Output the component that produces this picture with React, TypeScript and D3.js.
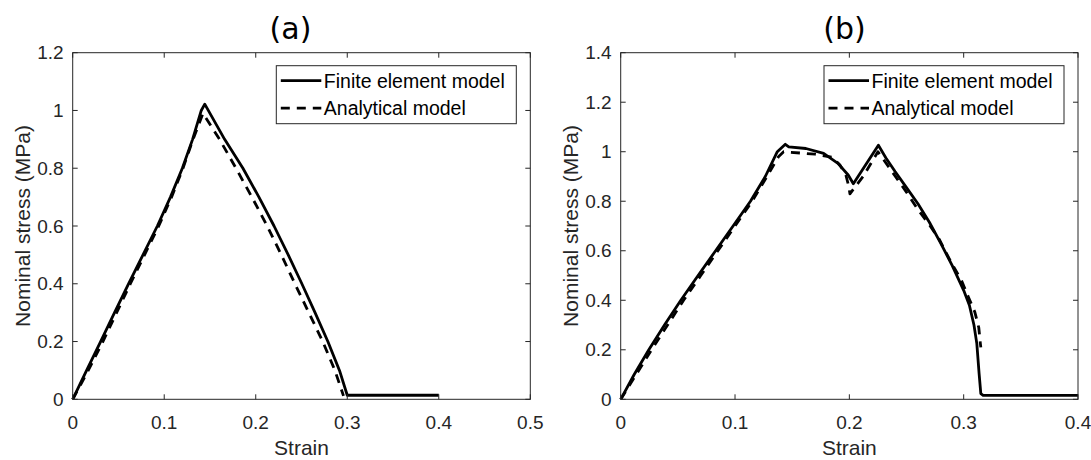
import React from 'react';
import * as d3 from 'd3';

// panel (a)
const feStrainA = [0, 0.0152, 0.0305, 0.0457, 0.061, 0.0768, 0.0925, 0.1068, 0.1198, 0.131, 0.1405, 0.1443, 0.166, 0.186, 0.2035, 0.22, 0.2355, 0.2504, 0.2648, 0.2788, 0.2915, 0.3, 0.4];
const feStressA = [0, 0.1, 0.2, 0.3, 0.4, 0.5, 0.6, 0.7, 0.8, 0.9, 1.0, 1.022, 0.9, 0.8, 0.7, 0.6, 0.5, 0.4, 0.3, 0.2, 0.1, 0.014, 0.014];
const anStrainA = [0, 0.017, 0.033, 0.048, 0.063, 0.0785, 0.094, 0.108, 0.1205, 0.1315, 0.1424, 0.1605, 0.1784, 0.1958, 0.2125, 0.228, 0.2428, 0.258, 0.2732, 0.2865, 0.2959];
const anStressA = [0, 0.1, 0.2, 0.3, 0.4, 0.5, 0.6, 0.7, 0.8, 0.9, 0.99, 0.9, 0.8, 0.7, 0.6, 0.5, 0.4, 0.3, 0.2, 0.1, 0.012];

// panel (b)
const feStrainB = [0, 0.0118, 0.0246, 0.0383, 0.0526, 0.0677, 0.083, 0.0983, 0.1135, 0.1265, 0.137, 0.144, 0.147, 0.162, 0.1775, 0.19, 0.199, 0.2035, 0.2254, 0.232, 0.24, 0.25, 0.26, 0.27, 0.28, 0.29, 0.3, 0.305, 0.309, 0.3115, 0.3135, 0.315, 0.317, 0.4];
const feStressB = [0, 0.1, 0.2, 0.3, 0.4, 0.5, 0.6, 0.7, 0.8, 0.9, 1.0, 1.03, 1.02, 1.013, 0.993, 0.953, 0.906, 0.871, 1.026, 0.975, 0.92, 0.855, 0.79, 0.715, 0.63, 0.54, 0.44, 0.38, 0.3, 0.225, 0.104, 0.023, 0.016, 0.016];
const anStrainB = [0, 0.0135, 0.027, 0.041, 0.055, 0.07, 0.085, 0.1, 0.115, 0.128, 0.138, 0.1425, 0.148, 0.17, 0.185, 0.192, 0.197, 0.1995, 0.2005, 0.212, 0.225, 0.235, 0.248, 0.2604, 0.27, 0.2788, 0.2837, 0.29, 0.2983, 0.3041, 0.3097, 0.3132, 0.3146, 0.315];
const anStressB = [0, 0.1, 0.2, 0.3, 0.4, 0.5, 0.6, 0.7, 0.8, 0.9, 0.98, 1.0, 0.998, 0.99, 0.978, 0.945, 0.905, 0.86, 0.83, 0.9, 1.0, 0.935, 0.85, 0.764, 0.705, 0.645, 0.6, 0.545, 0.478, 0.413, 0.353, 0.29, 0.225, 0.21];

const legendLabels = ['Finite element model', 'Analytical model'];
const xTicksA = [0, 0.1, 0.2, 0.3, 0.4, 0.5];
const yTicksA = [0, 0.2, 0.4, 0.6, 0.8, 1, 1.2];
const xTicksB = [0, 0.1, 0.2, 0.3, 0.4];
const yTicksB = [0, 0.2, 0.4, 0.6, 0.8, 1, 1.2, 1.4];

const axisColor = '#262626';
const font = 'Arial, "Liberation Sans", Helvetica, sans-serif';

const fmt = (v: number) => String(+v.toFixed(1));

type PanelProps = {
  left: number; right: number; top: number; bottom: number;
  title: string; titleX: number;
  xTicks: number[]; yTicks: number[];
  feX: number[]; feY: number[]; anX: number[]; anY: number[];
};

function Panel(p: PanelProps) {
  const x = d3.scaleLinear().domain([0, p.xTicks[p.xTicks.length - 1]]).range([p.left, p.right]);
  const y = d3.scaleLinear().domain([0, p.yTicks[p.yTicks.length - 1]]).range([p.bottom, p.top]);
  const line = d3.line<[number, number]>().x(d => x(d[0])).y(d => y(d[1]));
  const fe = line(p.feX.map((v, i) => [v, p.feY[i]] as [number, number])) || '';
  const an = line(p.anX.map((v, i) => [v, p.anY[i]] as [number, number])) || '';
  const tk = 5;
  const lw = 2.8;

  // legend box
  const lgW = 240, lgH = 58;
  const lgX = p.right - 14 - lgW, lgY = p.top + 13;

  return (
    <g>
      <text x={p.titleX} y={39} textAnchor="middle" fontFamily='"DejaVu Sans", Verdana, sans-serif' fontSize={30} fill="#000">{p.title}</text>
      <clipPath id={'clip' + p.title}>
        <rect x={p.left} y={p.top} width={p.right - p.left} height={p.bottom - p.top} />
      </clipPath>
      <g clipPath={`url(#clip${p.title})`} fill="none" stroke="#000" strokeWidth={lw} strokeLinejoin="round">
        <path d={fe} />
        <path d={an} strokeDasharray="9,7" />
      </g>
      {/* box */}
      <rect x={p.left} y={p.top} width={p.right - p.left} height={p.bottom - p.top} fill="none" stroke={axisColor} strokeWidth={1} />
      {p.xTicks.map(t => (
        <g key={'x' + t}>
          <line x1={x(t)} x2={x(t)} y1={p.bottom} y2={p.bottom - tk} stroke={axisColor} />
          <line x1={x(t)} x2={x(t)} y1={p.top} y2={p.top + tk} stroke={axisColor} />
          <text x={x(t)} y={428.5} textAnchor="middle" fontFamily={font} fontSize={19} fill={axisColor}>{fmt(t)}</text>
        </g>
      ))}
      {p.yTicks.map(t => (
        <g key={'y' + t}>
          <line x1={p.left} x2={p.left + tk} y1={y(t)} y2={y(t)} stroke={axisColor} />
          <line x1={p.right} x2={p.right - tk} y1={y(t)} y2={y(t)} stroke={axisColor} />
          <text x={p.left - 9} y={y(t)} dy="0.35em" textAnchor="end" fontFamily={font} fontSize={19} fill={axisColor}>{fmt(t)}</text>
        </g>
      ))}
      <text x={(p.left + p.right) / 2} y={455} textAnchor="middle" fontFamily={font} fontSize={21} fill={axisColor}>Strain</text>
      <text transform={`translate(${p.left - 43},${(p.top + p.bottom) / 2}) rotate(-90)`} textAnchor="middle" fontFamily={font} fontSize={21} fill={axisColor}>Nominal stress (MPa)</text>
      {/* legend */}
      <rect x={lgX} y={lgY} width={lgW} height={lgH} fill="#fff" stroke={axisColor} strokeWidth={1} />
      {legendLabels.map((lab, i) => {
        const ly = lgY + 15 + i * 27.5;
        return (
          <g key={lab}>
            <line x1={lgX + 4.5} x2={lgX + 45} y1={ly} y2={ly} stroke="#000" strokeWidth={lw} strokeDasharray={i === 1 ? '9,7' : undefined} />
            <text x={lgX + 47.5} y={ly} dy="0.35em" fontFamily={font} fontSize={19.5} fill="#000">{lab}</text>
          </g>
        );
      })}
    </g>
  );
}

export default function App() {
  return (
    <svg width={1091} height={460} style={{ position: 'absolute', left: 0, top: 0, background: '#fff' }}>
      <rect width={1091} height={460} fill="#fff" />
      <Panel left={72.7} right={530.3} top={52.7} bottom={399.3} title="(a)" titleX={290.5}
        xTicks={xTicksA} yTicks={yTicksA} feX={feStrainA} feY={feStressA} anX={anStrainA} anY={anStressA} />
      <Panel left={620.7} right={1078} top={52.7} bottom={399.3} title="(b)" titleX={844.5}
        xTicks={xTicksB} yTicks={yTicksB} feX={feStrainB} feY={feStressB} anX={anStrainB} anY={anStressB} />
    </svg>
  );
}
